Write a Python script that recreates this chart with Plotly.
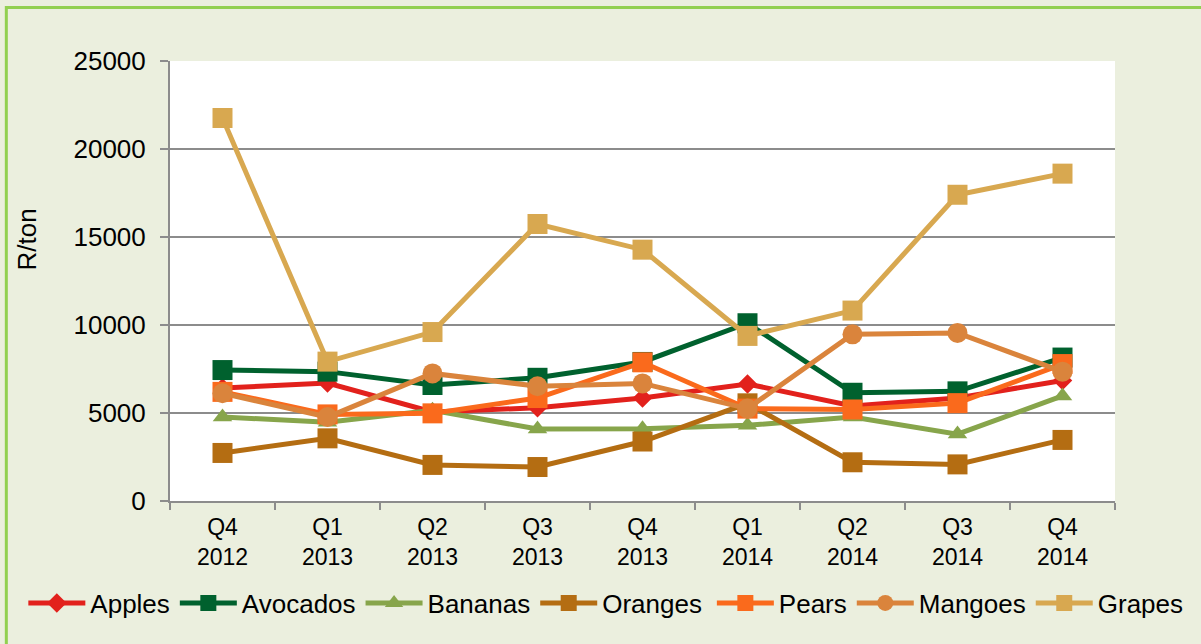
import plotly.graph_objects as go

quarters = ["Q4<br>2012", "Q1<br>2013", "Q2<br>2013", "Q3<br>2013", "Q4<br>2013",
            "Q1<br>2014", "Q2<br>2014", "Q3<br>2014", "Q4<br>2014"]

apples   = [6420, 6700, 5060, 5300, 5850, 6650, 5400, 5850, 6850]
avocados = [7440, 7350, 6590, 7000, 7900, 10100, 6150, 6230, 8150]
bananas  = [4770, 4480, 5150, 4090, 4100, 4300, 4770, 3800, 5970]
oranges  = [2730, 3560, 2050, 1930, 3380, 5550, 2200, 2080, 3470]
pears    = [6200, 4920, 4980, 5850, 7880, 5250, 5200, 5560, 7780]
mangoes  = [6120, 4770, 7250, 6520, 6680, 5250, 9470, 9550, 7350]
grapes   = [21760, 7920, 9600, 15740, 14280, 9380, 10820, 17400, 18600]

series = [
    ("Apples", apples, "#E2211C", "diamond", 15, "legend"),
    ("Avocados", avocados, "#00612E", "square", 20, "legend"),
    ("Bananas", bananas, "#87A54B", "triangle-up", 17, "legend"),
    ("Oranges", oranges, "#B46D12", "square", 20, "legend"),
    ("Pears", pears, "#FA6A1C", "square", 20, "legend2"),
    ("Mangoes", mangoes, "#DA843C", "circle", 20, "legend2"),
    ("Grapes", grapes, "#D8A850", "square", 20, "legend2"),
]

fig = go.Figure()
for name, vals, color, sym, size, leg in series:
    fig.add_trace(go.Scatter(
        x=quarters, y=vals, name=name, mode="lines+markers", legend=leg,
        line=dict(color=color, width=5),
        marker=dict(symbol=sym, size=size, color=color, line=dict(width=0)),
    ))

font = "Arial, 'Liberation Sans', sans-serif"
legend_common = dict(orientation="h", y=-0.2318, yanchor="middle", xanchor="left",
                     font=dict(size=26, color="#000000"), bgcolor="rgba(0,0,0,0)",
                     itemwidth=57, tracegroupgap=0)
fig.update_layout(
    width=1201, height=644,
    margin=dict(l=170, r=84, t=61, b=143),
    paper_bgcolor="#EBEFDE",
    plot_bgcolor="#FFFFFF",
    font=dict(family=font, size=23, color="#000000"),
    showlegend=True,
    legend=dict(x=-0.1552, **legend_common),
    legend2=dict(x=0.5734, **legend_common),
    xaxis=dict(
        type="category", range=[-0.5, len(quarters) - 0.5], autorange=False,
        showgrid=False, showline=True, linecolor="#8C8C8C", linewidth=2,
        ticks="outside", tickson="boundaries", ticklen=7, tickcolor="#8C8C8C", tickwidth=2,
        tickfont=dict(size=23), ticklabelstandoff=4, fixedrange=True,
    ),
    yaxis=dict(
        range=[0, 25000], dtick=5000, tickformat="d", showgrid=True,
        gridcolor="#8C8C8C", gridwidth=2,
        showline=True, linecolor="#8C8C8C", linewidth=2, zeroline=False,
        ticks="outside", ticklen=8, tickcolor="#8C8C8C", tickwidth=2,
        tickfont=dict(size=26), ticklabelstandoff=9,
    ),
    annotations=[dict(text="R/ton", textangle=-90, xref="paper", yref="paper",
                      x=-0.151, y=0.595, xanchor="center", yanchor="middle",
                      showarrow=False, font=dict(size=26, color="#000000"))],
    shapes=[dict(type="rect", xref="paper", yref="paper",
                 x0=-0.1732, x1=2.0, y0=-2.0, y1=1.1216,
                 line=dict(color="#92D050", width=3), fillcolor="rgba(0,0,0,0)",
                 layer="below")],
)

fig.write_html("out.html")
